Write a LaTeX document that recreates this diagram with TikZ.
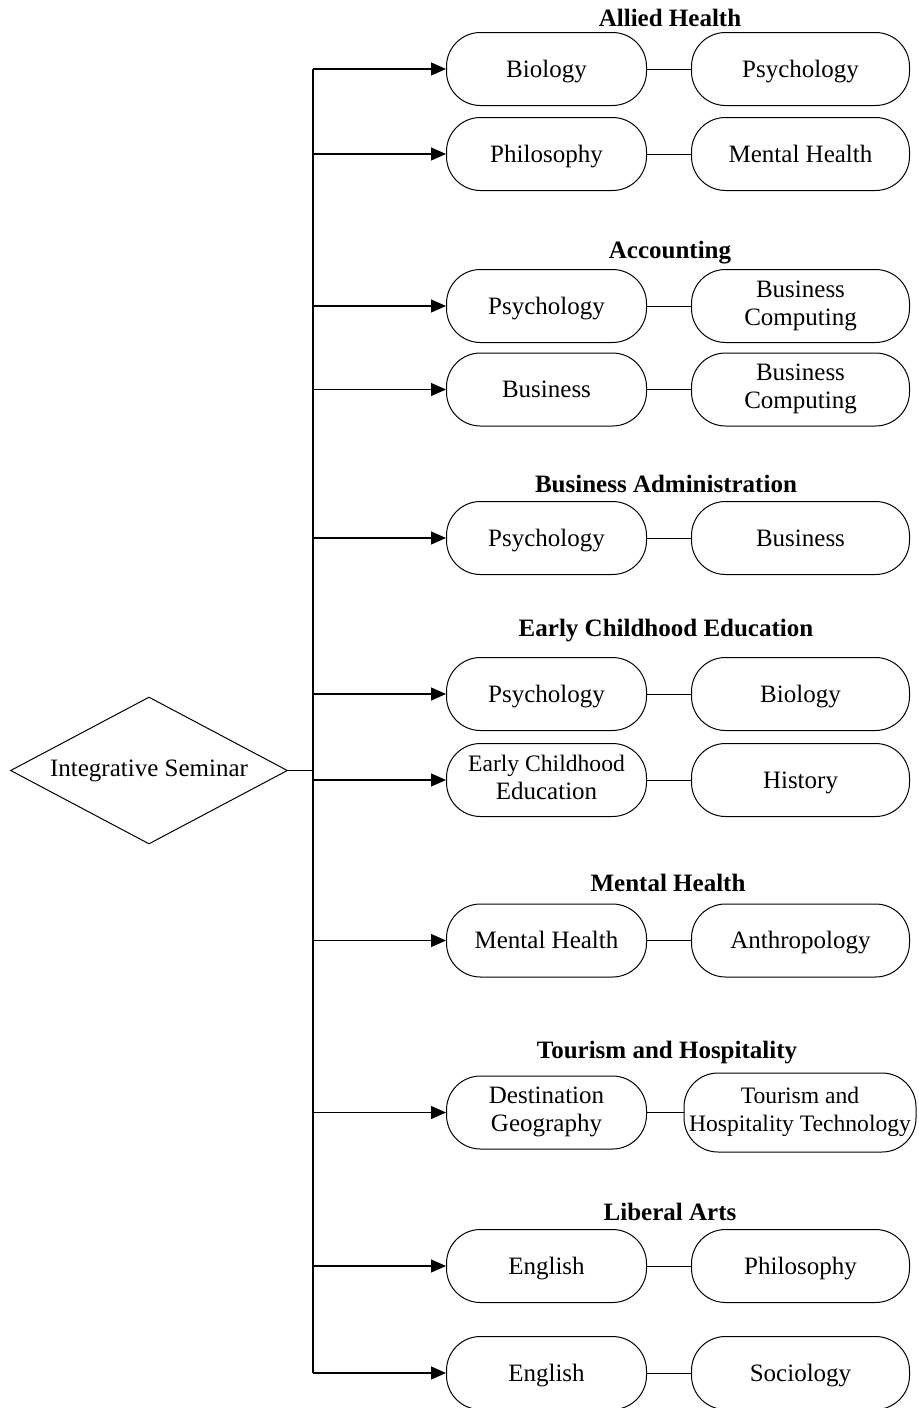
\documentclass[tikz,border=0pt]{standalone}
\usepackage{fontspec}
\setmainfont{Liberation Serif}
\usetikzlibrary{shapes.geometric,positioning,calc,arrows.meta}

% line strut, so that all boxes centre their text alike
\newcommand{\topstrut}{\vrule height 11pt depth 0pt width 0pt}
\newcommand{\botstrut}{\vrule height 0pt depth 3pt width 0pt}

\begin{document}
\begin{tikzpicture}[x=0.5pt,y=-0.5pt,
  course/.style ={draw,line width=0.5pt,rounded corners=17pt,minimum height=36.5pt,
                  align=center,inner sep=1pt,font=\fontsize{12.5}{14}\selectfont,
                  execute at begin node=\topstrut,execute at end node=\botstrut},
  lcourse/.style={course,minimum width=100pt},
  rcourse/.style={course,minimum width=109pt},
  program/.style={font=\fontsize{12.5}{14}\selectfont\bfseries},
  feed/.style   ={line width=0.6pt,-{Triangle[length=7.5pt,width=6.5pt]}},
  pair/.style   ={line width=0.5pt},
  trunk/.style  ={line width=0.8pt}
]
  \useasboundingbox (0,0) rectangle (918,1408);

  % ----- start node -----
  \node[diamond,draw,line width=0.5pt,aspect=1.89,minimum width=138.5pt,minimum height=73.5pt,
        inner sep=0pt,font=\fontsize{12.5}{14}\selectfont] (seminar) at (149,770.5) {Integrative Seminar};

  % ----- trunk -----
  \coordinate (top) at (313,69);
  \coordinate (bottom) at (313,1373);
  \draw[trunk] (top) -- (bottom);
  \draw[pair] (seminar.east) -- (seminar.east -| top);

  % ----- programme titles -----
  \node[program] (allied)   at (670,18)   {Allied Health};
  \node[program] (account)  at (670,253)  {Accounting};
  \node[program] (busadmin) at (666,484)  {Business Administration};
  \node[program] (ece)      at (666,631)  {Early Childhood Education};
  \node[program] (mental)   at (668,883)  {Mental Health};
  \node[program] (tourism)  at (667,1053) {Tourism and Hospitality};
  \node[program] (liberal)  at (670,1212) {Liberal Arts};

  % ----- course pairs -----
  \foreach \i/\y/\lt/\rt in {
      1/69/Biology/Psychology,
      2/154/Philosophy/Mental Health,
      3/306/Psychology/{Business\\Computing},
      4/389.5/Business/{Business\\Computing},
      5/538/Psychology/Business,
      6/694/Psychology/Biology,
      7/780/{\fontsize{11.8}{14}\selectfont Early Childhood\\Education}/History,
      8/940.5/Mental Health/Anthropology,
      10/1266/English/Philosophy,
      11/1373/English/Sociology}
  {
    \node[lcourse] (l\i) at (546.5,\y) {\lt};
    \node[rcourse] (r\i) at (800.5,\y) {\rt};
    \draw[feed] (top |- l\i.west) -- (l\i.west);
    \draw[pair] (l\i) -- (r\i);
  }

  % wider box for the long title
  \node[lcourse] (l9) at (546.5,1112.5) {Destination\\Geography};
  \node[rcourse,minimum width=116pt,minimum height=39.5pt,
        font=\fontsize{11.8}{14}\selectfont] (r9) at (800,1112.5) {Tourism and\\Hospitality Technology};
  \draw[feed] (top |- l9.west) -- (l9.west);
  \draw[pair] (l9) -- (r9);
\end{tikzpicture}
\end{document}
